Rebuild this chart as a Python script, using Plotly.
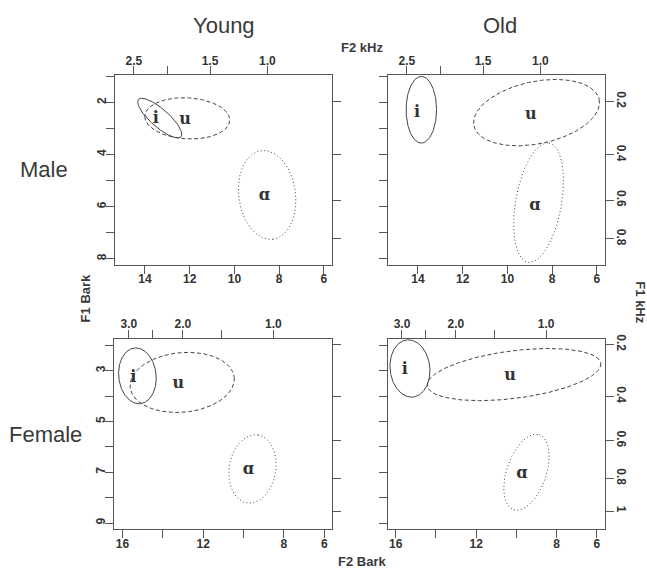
import numpy as np
import plotly.graph_objects as go

W, H = 647, 568

# ---------------- data ----------------
panels = ["young_male", "old_male", "young_female", "old_female"]
vowels = ["i", "u", "ɑ"]

# vowel label positions (F2 Bark, F1 Bark)
label_f2 = {"young_male": [13.52, 12.21, 8.67], "old_male": [14.04, 8.96, 8.78],
            "young_female": [15.46, 13.23, 9.76], "old_female": [15.54, 10.31, 9.73]}
label_f1 = {"young_male": [2.65, 2.68, 5.60], "old_male": [2.39, 2.49, 5.98],
            "young_female": [3.30, 3.52, 6.92], "old_female": [2.97, 3.21, 7.07]}

# ellipse centres (Bark)
ell_f2 = {"young_male": [13.34, 12.11, 8.54], "old_male": [13.85, 8.70, 8.61],
          "young_female": [15.26, 13.04, 9.56], "old_female": [15.29, 10.12, 9.50]}
ell_f1 = {"young_male": [2.60, 2.61, 5.55], "old_male": [2.28, 2.39, 5.85],
          "young_female": [3.20, 3.46, 6.87], "old_female": [2.91, 3.15, 7.00]}
# ellipse conjugate half-axes (Bark): major (f2, f1), minor (f2, f1)
maj_f2 = {"young_male": [-0.95, 1.90, -0.26], "old_male": [0.00, -2.80, -0.47],
          "young_female": [-0.08, -2.58, -0.27], "old_female": [-0.08, -4.31, -0.64]}
maj_f1 = {"young_male": [0.715, -0.07, 1.70], "old_male": [1.28, -0.506, -2.29],
          "young_female": [1.10, -0.195, -1.34], "old_female": [1.13, -0.44, -1.48]}
min_f2 = {"young_male": [0.268, 0.0, -1.26], "old_male": [0.68, -0.29, -1.01],
          "young_female": [0.93, -0.14, -1.14], "old_female": [0.99, -0.15, -0.93]}
min_f1 = {"young_male": [0.257, 0.79, -0.14], "old_male": [0.0, 1.17, 0.15],
          "young_female": [0.0, 1.17, 0.145], "old_female": [0.0, 0.93, 0.25]}

# axis ticks
bark_x_top_row = [14, 12, 10, 8, 6]
bark_x_top_row_lab = ["14", "12", "10", "8", "6"]
bark_x_bot_row = [16, 14, 12, 10, 8, 6]
bark_x_bot_row_lab = ["16", "", "12", "", "8", "6"]
bark_y_top_row = [1, 2, 3, 4, 5, 6, 7, 8]
bark_y_top_row_lab = ["", "2", "", "4", "", "6", "", "8"]
bark_y_bot_row = [2, 3, 4, 5, 6, 7, 8, 9]
bark_y_bot_row_lab = ["", "3", "", "5", "", "7", "", "9"]
khz_x_top_row = [2.5, 2.0, 1.5, 1.0]
khz_x_top_row_lab = ["2.5", "", "1.5", "1.0"]
khz_x_bot_row = [3.0, 2.5, 2.0, 1.5, 1.0]
khz_x_bot_row_lab = ["3.0", "", "2.0", "", "1.0"]
khz_y_top_row = [0.2, 0.4, 0.6, 0.8]
khz_y_top_row_lab = ["0.2", "0.4", "0.6", "0.8"]
khz_y_bot_row = [0.2, 0.4, 0.6, 0.8, 1.0]
khz_y_bot_row_lab = ["0.2", "0.4", "0.6", "0.8", "1"]


def bark(f_khz):
    f = f_khz * 1000.0
    z = 26.81 * f / (1960.0 + f) - 0.53
    if z < 2:
        z += 0.15 * (2 - z)
    return z


# ---------------- layout ----------------
LINE = "#555555"
TXT = "#333333"
SANS = "Liberation Sans, Arial, sans-serif"
dashes = ["solid", "4px,2.5px", "1px,2.5px"]

# panel boxes in pixels: (x0, x1, y0, y1)
boxes = {"young_male": (115, 332, 71, 262), "old_male": (388, 605, 71, 262),
         "young_female": (114, 332, 337, 529), "old_female": (388, 605, 337, 529)}
xranges = {"young_male": [15.34, 5.64], "old_male": [15.34, 5.64],
           "young_female": [16.42, 5.62], "old_female": [16.38, 5.60]}
yranges = {"young_male": [8.23, 0.96], "old_male": [8.23, 0.96],
           "young_female": [9.25, 1.75], "old_female": [9.25, 1.75]}

fig = go.Figure()
layout = dict(width=W, height=H, margin=dict(l=0, r=0, t=0, b=0),
              paper_bgcolor="white", plot_bgcolor="white", showlegend=False)

tickfont = dict(family=SANS, size=12, color=TXT, weight="bold")
t = np.linspace(0, 2 * np.pi, 241)

for k, p in enumerate(panels):
    xb, xt = 2 * k + 1, 2 * k + 2
    yl, yr = 2 * k + 1, 2 * k + 2
    x0, x1, y0, y1 = boxes[p]
    xdom = [x0 / W, x1 / W]
    ydom = [1 - y1 / H, 1 - y0 / H]
    top_row = k < 2
    left_col = k % 2 == 0
    bx, bxl = (bark_x_top_row, bark_x_top_row_lab) if top_row else (bark_x_bot_row, bark_x_bot_row_lab)
    by, byl = (bark_y_top_row, bark_y_top_row_lab) if top_row else (bark_y_bot_row, bark_y_bot_row_lab)
    kx, kxl = (khz_x_top_row, khz_x_top_row_lab) if top_row else (khz_x_bot_row, khz_x_bot_row_lab)
    ky, kyl = (khz_y_top_row, khz_y_top_row_lab) if top_row else (khz_y_bot_row, khz_y_bot_row_lab)

    common = dict(showgrid=False, zeroline=False, showline=True, linecolor=LINE, linewidth=1,
                  ticks="outside", ticklen=8, tickcolor=LINE, tickwidth=1,
                  tickfont=tickfont, tickmode="array", fixedrange=True)
    layout[f"xaxis{xb}"] = dict(common, domain=xdom, anchor=f"y{yl}", range=xranges[p],
                                tickvals=bx, ticktext=bxl, side="bottom", ticklabelstandoff=-5)
    layout[f"xaxis{xt}"] = dict(common, domain=xdom, anchor=f"y{yl}", range=xranges[p],
                                overlaying=f"x{xb}", side="top", ticklabelstandoff=-3,
                                tickvals=[bark(v) for v in kx], ticktext=kxl)
    layout[f"yaxis{yl}"] = dict(common, domain=ydom, anchor=f"x{xb}", range=yranges[p],
                                tickvals=by, ticktext=byl if left_col else [""] * len(by),
                                tickangle=-90, side="left", ticklabelstandoff=-5)
    layout[f"yaxis{yr}"] = dict(common, domain=ydom, anchor=f"x{xb}", range=yranges[p],
                                overlaying=f"y{yl}", side="right", tickangle=90,
                                ticklabelstandoff=-2,
                                tickvals=[bark(v) for v in ky],
                                ticktext=kyl if not left_col else [""] * len(ky))

    for j, v in enumerate(vowels):
        ex = ell_f2[p][j] + maj_f2[p][j] * np.cos(t) + min_f2[p][j] * np.sin(t)
        ey = ell_f1[p][j] + maj_f1[p][j] * np.cos(t) + min_f1[p][j] * np.sin(t)
        fig.add_trace(go.Scatter(x=ex, y=ey, mode="lines", xaxis=f"x{xb}", yaxis=f"y{yl}",
                                 line=dict(color="#444444", width=1, dash=dashes[j]),
                                 hoverinfo="skip"))
    fig.add_trace(go.Scatter(x=label_f2[p], y=label_f1[p], mode="text", text=vowels,
                             xaxis=f"x{xb}", yaxis=f"y{yl}", textposition="middle center",
                             textfont=dict(family="DejaVu Serif, serif", size=16, color=TXT,
                                           weight="bold"),
                             hoverinfo="skip"))
    # anchor the overlaying axes with invisible traces
    fig.add_trace(go.Scatter(x=[None], y=[None], xaxis=f"x{xt}", yaxis=f"y{yr}",
                             mode="markers", hoverinfo="skip"))

fig.update_layout(**layout)


def ann(text, px, py, size, bold=False, angle=0):
    fig.add_annotation(text=text, x=px / W, y=1 - py / H, xref="paper", yref="paper",
                       showarrow=False, textangle=angle, xanchor="center", yanchor="middle",
                       font=dict(family=SANS, size=size, color="#3a3a3a",
                                 weight="bold" if bold else "normal"))


ann("Young", 224, 21, 22)
ann("Old", 500, 21, 22)
ann("Male", 44, 166, 22)
ann("Female", 45, 433, 22)
ann("F2 kHz", 362, 43, 13, bold=True)
ann("F2 Bark", 362, 561, 13, bold=True)
ann("F1 Bark", 85, 296, 13, bold=True, angle=-90)
ann("F1 kHz", 641, 300, 13, bold=True, angle=90)

fig.write_html("out.html")
